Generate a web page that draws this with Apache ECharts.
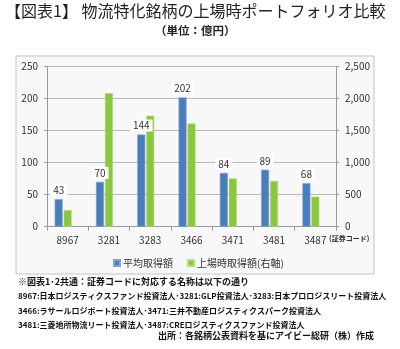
<!DOCTYPE html>
<html>
<head>
<meta charset="utf-8">
<script src="https://cdn.jsdelivr.net/npm/echarts@6/dist/echarts.min.js"></script>
<style>
  html, body { margin: 0; padding: 0; background: #fff; }
  #chart { width: 400px; height: 349px; }
</style>
</head>
<body>
<div id="chart"></div>
<script>
// Securities codes of the logistics REITs
const codes = ['8967', '3281', '3283', '3466', '3471', '3481', '3487'];
// Average acquisition price per property (億円, left axis)
const avgPrice = [43, 70, 144, 202, 84, 89, 68];
// Total acquisition price at listing (億円, right axis)
const listingTotal = [260, 2085, 1735, 1615, 755, 715, 470];
// Axis ticks
const leftTicks = [0, 50, 100, 150, 200, 250];
const rightTicks = [0, 500, 1000, 1500, 2000, 2500];

const seriesNames = ['平均取得額', '上場時取得額(右軸)'];
const titleText = '【図表1】 物流特化銘柄の上場時ポートフォリオ比較';
const unitText = '（単位：億円）';
const codeUnit = '(証券コード)';
const notes = [
  '※図表1･2共通：証券コードに対応する名称は以下の通り',
  '8967:日本ロジスティクスファンド投資法人･3281:GLP投資法人･3283:日本プロロジスリート投資法人',
  '3466:ラサールロジポート投資法人･3471:三井不動産ロジスティクスパーク投資法人',
  '3481:三菱地所物流リート投資法人･3487:CREロジスティクスファンド投資法人'
];
const sourceText = '出所：各銘柄公表資料を基にアイビー総研（株）作成';

const FONT = '"Noto Sans CJK JP", "Noto Sans", sans-serif';
const chart = echarts.init(document.getElementById('chart'), null, { renderer: 'canvas' });

const noteY = [282, 297, 312, 326];
const noteFont = ['bold 9px ', 'bold 8px ', 'bold 8px ', 'bold 8px '];

chart.setOption({
  backgroundColor: '#ffffff',
  animation: false,
  textStyle: { fontFamily: FONT },
  graphic: [
    {
      type: 'rect', z: -10, silent: true,
      shape: { x: 16, y: 56, width: 358, height: 218 },
      style: { fill: '#f8f8f8', stroke: '#c4c4c4', lineWidth: 1 }
    },
    {
      type: 'text', left: 5, top: 3,
      style: { text: titleText, font: '16px ' + FONT, fill: '#222' }
    },
    {
      type: 'text', left: 155, top: 25,
      style: { text: unitText, font: 'bold 11.5px ' + FONT, fill: '#222' }
    },
    {
      type: 'text', left: 329, top: 235,
      style: { text: codeUnit, font: 'bold 7px ' + FONT, fill: '#333' }
    }
  ].concat(notes.map((t, i) => ({
    type: 'text', left: 18, top: noteY[i] - 5,
    style: { text: t, font: noteFont[i] + FONT, fill: '#111' }
  }))).concat([
    {
      type: 'text', left: 158, top: 331,
      style: { text: sourceText, font: 'bold 9px ' + FONT, fill: '#111' }
    }
  ]),
  legend: {
    data: seriesNames,
    left: 108, top: 253,
    itemWidth: 6, itemHeight: 6, itemGap: 14,
    icon: 'rect',
    textStyle: { fontSize: 10, color: '#333', padding: [0, 0, 0, -2] }
  },
  grid: { left: 47, right: 64, top: 66.7, bottom: 122.3, containLabel: false },
  xAxis: {
    type: 'category',
    data: codes,
    axisLine: { lineStyle: { color: '#999' } },
    axisTick: { show: true, length: 4, lineStyle: { color: '#999' } },
    axisLabel: { fontSize: 10, color: '#333', margin: 9 }
  },
  yAxis: [
    {
      type: 'value', min: leftTicks[0], max: leftTicks[leftTicks.length - 1],
      interval: leftTicks[1] - leftTicks[0],
      axisLine: { show: true, lineStyle: { color: '#999' } },
      axisTick: { show: true, length: 3, lineStyle: { color: '#999' } },
      axisLabel: { fontSize: 10, color: '#333', margin: 9 },
      splitLine: { lineStyle: { color: '#b8b8b8' } }
    },
    {
      type: 'value', min: rightTicks[0], max: rightTicks[rightTicks.length - 1],
      interval: rightTicks[1] - rightTicks[0],
      axisLine: { show: true, lineStyle: { color: '#999' } },
      axisTick: { show: true, length: 3, lineStyle: { color: '#999' } },
      axisLabel: {
        fontSize: 10, color: '#333', margin: 9,
        formatter: v => v.toLocaleString('en-US')
      },
      splitLine: { show: false }
    }
  ],
  series: [
    {
      name: seriesNames[0], type: 'bar', yAxisIndex: 0,
      data: avgPrice, barWidth: 8, barGap: '12%',
      itemStyle: { color: '#4a7ebb', borderColor: '#7fa3d0', borderWidth: 0.6 },
      label: {
        show: true, position: 'top', distance: 3,
        fontSize: 10, color: '#333',
        backgroundColor: '#ffffff', padding: [1, 3]
      },
      z: 2
    },
    {
      name: seriesNames[1], type: 'bar', yAxisIndex: 1,
      data: listingTotal, barWidth: 8,
      itemStyle: { color: '#8cc63f', borderColor: '#b5dd80', borderWidth: 0.6 },
      z: 1
    },
    {
      // empty slot keeps the bar pair left of the category centre
      name: 'spacer', type: 'bar', yAxisIndex: 1,
      data: codes.map(() => '-'), barWidth: 8, silent: true
    }
  ]
});
</script>
</body>
</html>
